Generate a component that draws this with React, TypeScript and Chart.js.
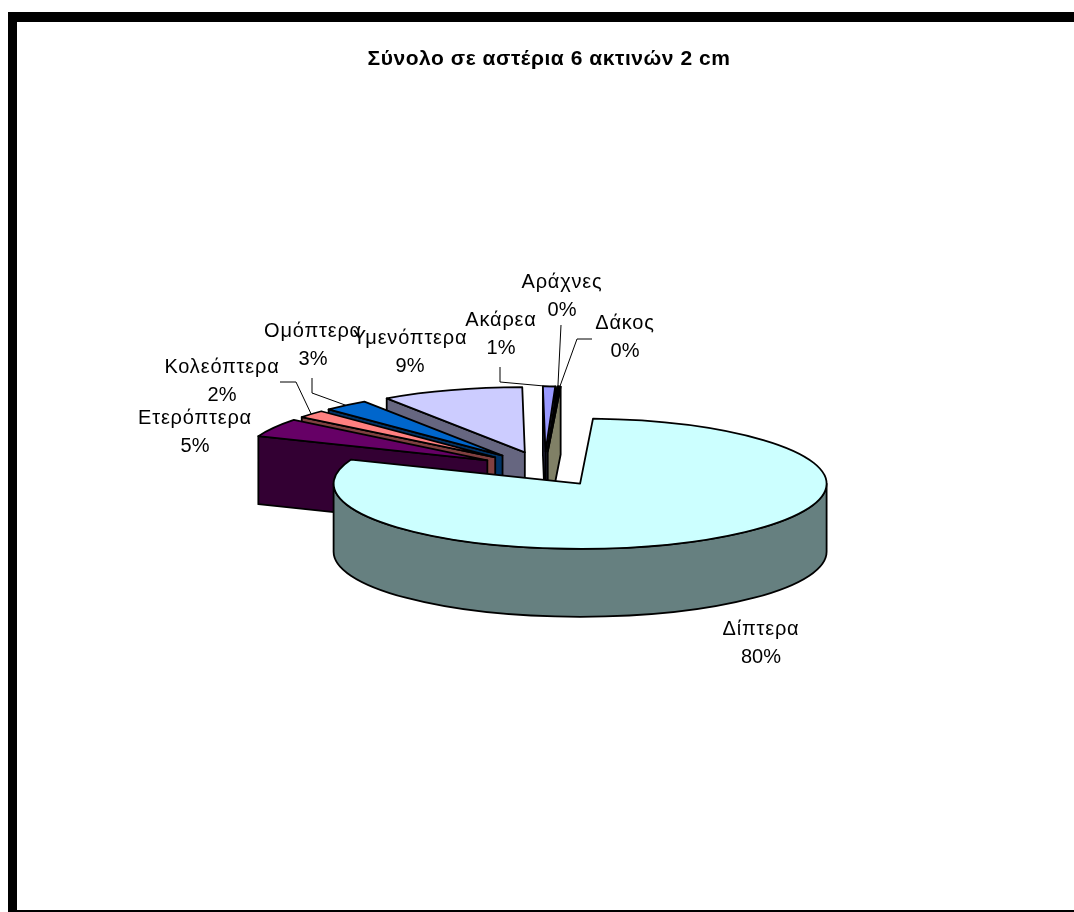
import { useEffect, useRef } from "react";
import { Chart, registerables } from "chart.js";

Chart.register(...registerables);

const TITLE = "Σύνολο σε αστέρια 6 ακτινών 2 cm";
const categories = ["Δίπτερα", "Ετερόπτερα", "Κολεόπτερα", "Ομόπτερα", "Υμενόπτερα", "Ακάρεα", "Αράχνες", "Δάκος"];
const shares = [80.2, 4.6, 1.9, 3.0, 9.3, 0.8, 0.1, 0.1];
const topColors = ["#CCFFFF", "#660066", "#FF8080", "#0066CC", "#CCCCFF", "#9999FF", "#993366", "#FFFFCC"];
const sideColors = ["#668080", "#330033", "#804040", "#003366", "#666680", "#4C4C80", "#4C1A33", "#808066"];

// Label centres and the knees of their leader lines, in canvas pixels.
const labelCentres: [number, number][] = [
  [761, 629], [195, 418], [222, 367], [313, 331], [410, 338], [501, 320], [562, 282], [625, 323],
];
const leaderKnees: [number, number][][] = [
  [], [], [[280, 382], [296, 382]], [[312, 378], [312, 393]], [], [[500, 367], [500, 382]], [[561, 325]], [[592, 339], [577, 339]],
];

const TILT = 65 / 246;
const DEPTH = 68;
const LABEL_FONT = '20px "Liberation Sans", Arial, sans-serif';
const TITLE_FONT = 'bold 21px "Liberation Sans", Arial, sans-serif';

// Paints the pie's arc elements as tilted, extruded and exploded wedges.
const tiltedPie = {
  id: "tiltedPie",
  beforeDatasetsDraw(chart: any) {
    const ctx: any = chart.ctx;
    const meta = chart.getDatasetMeta(0);

    const wedges = meta.data.map((arc: any, index: number) => {
      const { x, y, startAngle, endAngle, outerRadius } = arc.getProps(
        ["x", "y", "startAngle", "endAngle", "outerRadius"], true);
      const mid = (startAngle + endAngle) / 2;
      const shift = (arc.options.offset || 0) / 2;
      return {
        index, startAngle, endAngle, mid, R: outerRadius,
        ax: x + Math.cos(mid) * shift,
        ay: y + Math.sin(mid) * shift * TILT,
      };
    });

    ctx.save();
    ctx.strokeStyle = "#000";
    ctx.lineWidth = 1.8;
    ctx.lineJoin = "round";

    const edgeWall = (w: any, angle: number) => {
      const px = w.ax + w.R * Math.cos(angle);
      const py = w.ay + w.R * TILT * Math.sin(angle);
      ctx.beginPath();
      ctx.moveTo(w.ax, w.ay);
      ctx.lineTo(px, py);
      ctx.lineTo(px, py + DEPTH);
      ctx.lineTo(w.ax, w.ay + DEPTH);
      ctx.closePath();
      ctx.fillStyle = sideColors[w.index];
      ctx.fill();
      ctx.stroke();
    };

    const rimWall = (w: any) => {
      for (const turn of [-2 * Math.PI, 0, 2 * Math.PI]) {
        const from = Math.max(w.startAngle, turn);
        const to = Math.min(w.endAngle, turn + Math.PI);
        if (to <= from) continue;
        ctx.beginPath();
        ctx.ellipse(w.ax, w.ay, w.R, w.R * TILT, 0, from, to);
        ctx.ellipse(w.ax, w.ay + DEPTH, w.R, w.R * TILT, 0, to, from, true);
        ctx.closePath();
        ctx.fillStyle = sideColors[w.index];
        ctx.fill();
        ctx.stroke();
      }
    };

    // Wedges further back are painted first.
    [...wedges].sort((a: any, b: any) => a.ay - b.ay).forEach((w: any) => {
      if (-Math.cos(w.startAngle) > 0) edgeWall(w, w.startAngle);
      if (Math.cos(w.endAngle) > 0) edgeWall(w, w.endAngle);
      rimWall(w);
      ctx.beginPath();
      ctx.moveTo(w.ax, w.ay);
      ctx.ellipse(w.ax, w.ay, w.R, w.R * TILT, 0, w.startAngle, w.endAngle);
      ctx.closePath();
      ctx.fillStyle = topColors[w.index];
      ctx.fill();
      ctx.stroke();
    });

    // Leader lines run from the label to the middle of the wedge's rim.
    ctx.lineWidth = 1;
    ctx.strokeStyle = "#000";
    wedges.forEach((w: any) => {
      const knees = leaderKnees[w.index];
      if (!knees.length) return;
      ctx.beginPath();
      knees.forEach(([px, py], i) => (i ? ctx.lineTo(px, py) : ctx.moveTo(px, py)));
      ctx.lineTo(w.ax + w.R * Math.cos(w.mid), w.ay + w.R * TILT * Math.sin(w.mid));
      ctx.stroke();
    });

    // Category names with their rounded percentages.
    const total = shares.reduce((sum, v) => sum + v, 0);
    ctx.fillStyle = "#000";
    ctx.textAlign = "center";
    ctx.textBaseline = "middle";
    ctx.font = LABEL_FONT;
    categories.forEach((name, i) => {
      const [cx, cy] = labelCentres[i];
      ctx.letterSpacing = "0.8px";
      ctx.fillText(name, cx, cy);
      ctx.letterSpacing = "0px";
      ctx.fillText(`${Math.round((shares[i] / total) * 100)}%`, cx, cy + 28);
    });

    ctx.font = TITLE_FONT;
    ctx.letterSpacing = "0.55px";
    ctx.fillText(TITLE, 549, 59);
    ctx.restore();
    return false;
  },
};

export default function App() {
  const canvasRef = useRef<HTMLCanvasElement>(null);

  useEffect(() => {
    if (!canvasRef.current) return;
    const chart = new Chart(canvasRef.current, {
      type: "pie",
      data: {
        labels: categories,
        datasets: [{ data: shares, backgroundColor: topColors, offset: 132, borderColor: "#000", borderWidth: 1.8 }],
      },
      options: {
        responsive: false,
        animation: false,
        rotation: 3,
        radius: 246.5,
        layout: { padding: { left: 15, top: 26 } },
        plugins: { legend: { display: false }, tooltip: { enabled: false }, title: { display: false } },
      },
      plugins: [tiltedPie],
    } as any);
    return () => chart.destroy();
  }, []);

  return (
    <div style={{ position: "absolute", left: 0, top: 0, width: 1074, height: 912, overflow: "hidden", background: "#fff" }}>
      <div style={{ position: "absolute", left: 8, top: 12, width: 1066, height: 10, background: "#000" }} />
      <div style={{ position: "absolute", left: 8, top: 12, width: 9, height: 900, background: "#000" }} />
      <div style={{ position: "absolute", left: 8, top: 910, width: 1066, height: 2, background: "#000" }} />
      <canvas ref={canvasRef} width={1074} height={912} style={{ position: "absolute", left: 0, top: 0, display: "block" }} />
    </div>
  );
}
